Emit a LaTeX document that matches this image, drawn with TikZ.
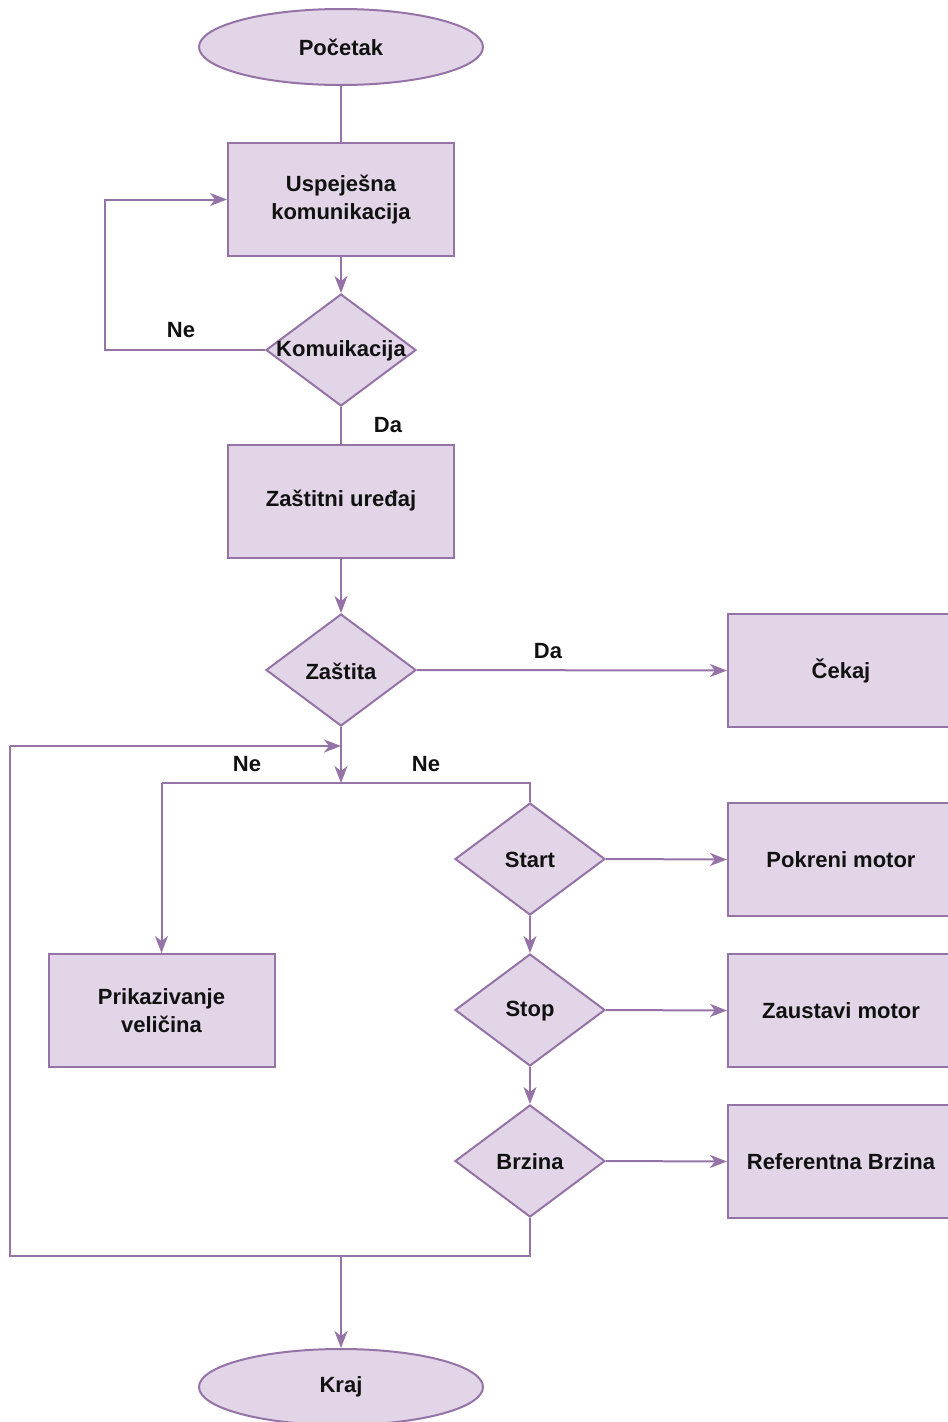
\documentclass[tikz,border=0pt]{standalone}
\usepackage{fontspec}
\setmainfont{Liberation Sans}
\usetikzlibrary{shapes.geometric,arrows.meta}
\definecolor{pfill}{HTML}{E1D5E7}
\definecolor{pline}{HTML}{9673A6}
\definecolor{ptext}{HTML}{111111}
\begin{document}
\begin{tikzpicture}[x=1pt,y=-1pt,
  every node/.style={font=\fontsize{22}{28}\selectfont\bfseries, text=ptext},
  term/.style={ellipse, draw=pline, fill=pfill, line width=2pt, minimum width=284pt, minimum height=76pt, inner sep=0pt},
  proc/.style={rectangle, draw=pline, fill=pfill, line width=2pt, minimum width=226pt, minimum height=113pt, inner sep=0pt, align=center},
  dec/.style={diamond, draw=pline, fill=pfill, line width=2pt, minimum width=150pt, minimum height=112pt, inner sep=0pt},
  conn/.style={draw=pline, line width=2pt},
  arr/.style={conn, -{Stealth[length=17pt,width=13pt,inset=5pt]}},
  lbl/.style={inner sep=0pt}
]
\useasboundingbox (0,0) rectangle (948,1422);
% nodes
\node[term] (poc) at (341,47) {Početak};
\node[proc] (usp) at (341,199.5) {Uspeješna\\komunikacija};
\node[dec] (kom) at (341,350) {};
\node[lbl] at (341,351) {Komuikacija};
\node[proc] (zur) at (341,501) {Zaštitni uređaj};
\node[dec] (zas) at (341,670) {};
\node[lbl] at (341,671) {Zaštita};
\node[proc] (cek) at (841,670.5) {Čekaj};
\node[dec] (sta) at (530,859) {};
\node[lbl] at (530,860) {Start};
\node[proc] (pok) at (841,859.5) {Pokreni motor};
\node[dec] (sto) at (530,1010) {};
\node[lbl] at (530,1011) {Stop};
\node[proc] (zau) at (841,1010.5) {Zaustavi motor};
\node[dec] (brz) at (530,1161) {};
\node[lbl] at (530,1162) {Brzina};
\node[proc] (ref) at (841,1161.5) {Referentna Brzina};
\node[proc] (pri) at (161.5,1010.5) {Prikazivanje\\veličina};
\node[term] (kra) at (341,1387) {Kraj};
% coordinates
\coordinate (kl) at (105,350);
\coordinate (jn) at (341,783);
\coordinate (lp) at (341,746);
\coordinate (lb) at (10,1256);
\coordinate (mb) at (341,1256);
\coordinate (pl) at (161.5,783);
% connectors
\draw[conn] (poc.south) -- (usp.north);
\draw[arr] (usp.south) -- (kom.north);
\draw[arr] (kom.west) -- (kl) |- (usp.west);
\draw[conn] (kom.south) -- (zur.north);
\draw[arr] (zur.south) -- (zas.north);
\draw[arr] (zas.east) -- (cek.west);
\draw[arr] (zas.south) -- (jn);
\draw[conn] (jn) -- (pl);
\draw[arr] (pl) -- (pri.north);
\draw[conn] (jn) -| (sta.north);
\draw[arr] (sta.east) -- (pok.west);
\draw[arr] (sta.south) -- (sto.north);
\draw[arr] (sto.east) -- (zau.west);
\draw[arr] (sto.south) -- (brz.north);
\draw[arr] (brz.east) -- (ref.west);
\draw[conn] (brz.south) |- (lb) -- (lb |- lp);
\draw[arr] (lb |- lp) -- (lp);
\draw[arr] (mb) -- (kra.north);
% labels
\node[lbl] at (181,330) {Ne};
\node[lbl] at (388,425) {Da};
\node[lbl] at (548,651) {Da};
\node[lbl] at (247,764) {Ne};
\node[lbl] at (426,764) {Ne};
\end{tikzpicture}
\end{document}
